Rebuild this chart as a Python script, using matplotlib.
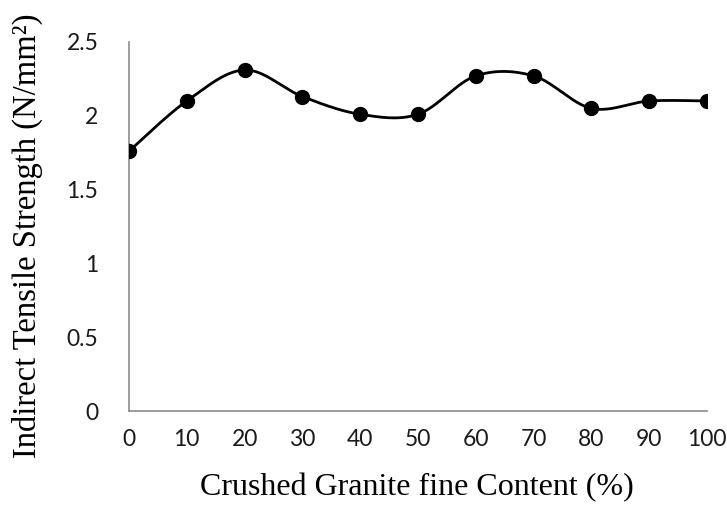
import matplotlib.pyplot as plt
import numpy as np

# Data
content = [0, 10, 20, 30, 40, 50, 60, 70, 80, 90, 100]
strength = [1.76, 2.10, 2.31, 2.13, 2.01, 2.01, 2.27, 2.27, 2.05, 2.10, 2.10]
y_ticks = [0, 0.5, 1, 1.5, 2, 2.5]
y_ticklabels = ['0', '0.5', '1', '1.5', '2', '2.5']


def smooth_curve(x, y, n=30):
    # Excel-like smoothed line (Catmull-Rom as cubic Bezier)
    x = np.asarray(x, float)
    y = np.asarray(y, float)
    px = np.concatenate([[x[0]], x, [x[-1]]])
    py = np.concatenate([[y[0]], y, [y[-1]]])
    xs, ys = [], []
    t = np.linspace(0, 1, n)
    for i in range(1, len(px) - 2):
        p0 = np.array([px[i], py[i]])
        p3 = np.array([px[i + 1], py[i + 1]])
        c1 = p0 + (np.array([px[i + 1], py[i + 1]]) - np.array([px[i - 1], py[i - 1]])) / 6
        c2 = p3 - (np.array([px[i + 2], py[i + 2]]) - np.array([px[i], py[i]])) / 6
        b = ((1 - t) ** 3)[:, None] * p0 + (3 * (1 - t) ** 2 * t)[:, None] * c1 \
            + (3 * (1 - t) * t ** 2)[:, None] * c2 + (t ** 3)[:, None] * p3
        xs.extend(b[:, 0])
        ys.extend(b[:, 1])
    return np.array(xs), np.array(ys)


fig = plt.figure(figsize=(7.27, 5.05), dpi=100)
ax = fig.add_axes([0.1774, 0.186, 0.7951, 0.731])

sx, sy = smooth_curve(content, strength)
ax.plot(sx, sy, color='black', linewidth=2, zorder=2)
ax.plot(content, strength, 'o', color='black', markersize=10, zorder=3)

ax.set_xlim(0, 100)
ax.set_ylim(0, 2.5)
ax.set_xticks(content)
ax.set_xticklabels([str(c) for c in content])
ax.set_yticks(y_ticks)
ax.set_yticklabels(y_ticklabels)

for side in ['top', 'right']:
    ax.spines[side].set_visible(False)
for side in ['left', 'bottom']:
    ax.spines[side].set_color('#8c8c8c')
    ax.spines[side].set_linewidth(1.2)

ax.tick_params(length=0, labelsize=16.5, pad=13)
ax.tick_params(axis='y', pad=22)
for lab in ax.get_xticklabels() + ax.get_yticklabels():
    lab.set_family('Lato')
    lab.set_color('#1a1a1a')

ax.set_xlabel('Crushed Granite fine Content (%)', family='Liberation Serif',
              fontsize=23, va='center', ha='center')
ax.set_ylabel('Indirect Tensile Strength (N/mm²)', family='Liberation Serif',
              fontsize=23.5, va='center', ha='center')
ax.xaxis.set_label_coords(0.498, -0.207)
ax.yaxis.set_label_coords(-0.175, 0.474)

fig.savefig('out.png', dpi=100)
